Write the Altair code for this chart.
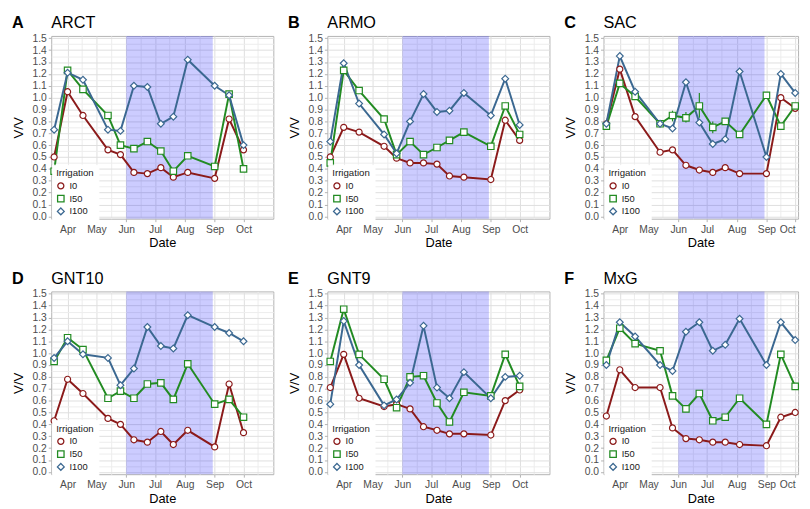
import altair as alt
import pandas as pd

# ---------------- data ----------------
dates = ["2015-03-18", "2015-04-01", "2015-04-17", "2015-05-13", "2015-05-26", "2015-06-09",
         "2015-06-23", "2015-07-07", "2015-07-20", "2015-08-04", "2015-09-01", "2015-09-16",
         "2015-10-01"]
treatments = ["I0", "I50", "I100"]
letters = ["A", "B", "C", "D", "E", "F"]
crops = ["ARCT", "ARMO", "SAC", "GNT10", "GNT9", "MxG"]

arct_i0 = [0.50, 1.05, 0.85, 0.56, 0.52, 0.37, 0.36, 0.41, 0.33, 0.37, 0.32, 0.82, 0.56]
arct_i50 = [0.38, 1.23, 1.07, 0.85, 0.60, 0.57, 0.63, 0.55, 0.38, 0.51, 0.42, 1.03, 0.40]
arct_i100 = [0.73, 1.21, 1.15, 0.73, 0.72, 1.10, 1.09, 0.78, 0.84, 1.32, 1.10, 1.02, 0.60]

armo_i0 = [0.50, 0.75, 0.71, 0.59, 0.49, 0.45, 0.45, 0.44, 0.34, 0.33, 0.31, 0.81, 0.64]
armo_i50 = [0.45, 1.23, 1.06, 0.82, 0.52, 0.63, 0.52, 0.58, 0.64, 0.71, 0.59, 0.93, 0.69]
armo_i100 = [0.63, 1.29, 0.95, 0.69, 0.53, 0.80, 1.03, 0.88, 0.89, 1.04, 0.85, 1.16, 0.77]

sac_i0 = [0.78, 1.24, 0.84, 0.54, 0.56, 0.43, 0.39, 0.37, 0.41, 0.36, 0.36, 1.00, 0.91]
sac_i50 = [0.76, 1.12, 1.01, 0.78, 0.85, 0.83, 0.93, 0.75, 0.80, 0.69, 1.02, 0.76, 0.93]
sac_i100 = [0.78, 1.35, 1.05, 0.78, 0.74, 1.13, 0.79, 0.61, 0.65, 1.22, 0.50, 1.20, 1.04]

gnt10_i0 = [0.43, 0.78, 0.66, 0.45, 0.40, 0.27, 0.25, 0.34, 0.23, 0.35, 0.21, 0.74, 0.33]
gnt10_i50 = [0.93, 1.13, 1.03, 0.62, 0.68, 0.62, 0.74, 0.75, 0.61, 0.91, 0.57, 0.61, 0.46]
gnt10_i100 = [0.96, 1.10, 0.99, 0.96, 0.73, 0.87, 1.22, 1.06, 1.04, 1.32, 1.22, 1.17, 1.10]

gnt9_i0 = [0.71, 0.99, 0.62, 0.55, 0.57, 0.53, 0.38, 0.35, 0.32, 0.32, 0.31, 0.60, 0.69]
gnt9_i50 = [0.93, 1.37, 0.99, 0.78, 0.54, 0.80, 0.81, 0.58, 0.42, 0.67, 0.64, 0.99, 0.72]
gnt9_i100 = [0.57, 1.27, 0.90, 0.56, 0.61, 0.75, 1.23, 0.71, 0.62, 0.84, 0.62, 0.80, 0.81]

mxg_i0 = [0.47, 0.86, 0.71, 0.71, 0.37, 0.28, 0.27, 0.25, 0.25, 0.23, 0.22, 0.46, 0.50]
mxg_i50 = [0.94, 1.21, 1.08, 1.02, 0.64, 0.53, 0.66, 0.43, 0.46, 0.62, 0.40, 0.99, 0.72]
mxg_i100 = [0.90, 1.26, 1.14, 0.90, 0.85, 1.18, 1.26, 1.02, 1.07, 1.29, 0.90, 1.26, 1.11]

series_by_crop = {
    "ARCT": (arct_i0, arct_i50, arct_i100),
    "ARMO": (armo_i0, armo_i50, armo_i100),
    "SAC": (sac_i0, sac_i50, sac_i100),
    "GNT10": (gnt10_i0, gnt10_i50, gnt10_i100),
    "GNT9": (gnt9_i0, gnt9_i50, gnt9_i100),
    "MxG": (mxg_i0, mxg_i50, mxg_i100),
}

# visible error bars (SAC, I50)
sac_err_dates = ["2015-05-26", "2015-06-09", "2015-06-23", "2015-07-07"]
sac_err_lo = [0.80, 0.79, 0.83, 0.70]
sac_err_hi = [0.89, 0.88, 1.04, 0.80]

shade_start = ["2015-06-01"]
shade_end = ["2015-08-30"]

month_ticks = ["2015-04-01", "2015-05-01", "2015-06-01", "2015-07-01", "2015-08-01",
               "2015-09-01", "2015-10-01"]
mid_ticks = ["2015-04-16", "2015-05-16", "2015-06-16", "2015-07-16", "2015-08-16",
             "2015-09-16", "2015-10-16"]
y_ticks = [round(i * 0.05, 2) for i in range(31)]
x_domain_full = ["2015-03-15", "2015-11-01"]   # left and middle columns
x_domain_cut = ["2015-03-15", "2015-10-04"]    # right column (cut at the image edge)

colors = ["#8B1A1A", "#228B22", "#3B6891"]
shapes = ["circle", "square", "diamond"]
sizes = [38, 48, 70]

FONT = "Liberation Sans"


def dt(s):
    y, m, d = (int(p) for p in s.split("-"))
    return alt.DateTime(year=y, month=m, date=d, utc=True)


y_scale = alt.Scale(domain=[-0.02, 1.52], nice=False, zero=False)

minor_x = "utcdate(datum.value) != 1"
minor_y = "abs(datum.value*10 - round(datum.value*10)) > 0.01"


def make_x_axis(domain):
    vals = [s for s in sorted(month_ticks + mid_ticks) if domain[0] <= s <= domain[1]]
    return alt.Axis(
        values=[dt(s) for s in vals],
        labelExpr="utcdate(datum.value) == 1 ? utcFormat(datum.value, '%b') : ''",
        labelOverlap=False, domain=False, tickSize=3, labelPadding=3, labelFlush=6,
        tickColor={"condition": {"test": minor_x, "value": "rgba(0,0,0,0)"}, "value": "#B3B3B3"},
        gridColor={"condition": {"test": minor_x, "value": "#EDEDED"}, "value": "#DEDEDE"},
        labelFont=FONT, labelFontSize=10.5, labelColor="#4D4D4D",
        titleFont=FONT, titleFontSize=13, titleFontWeight="normal", titleColor="#000000",
        titlePadding=2,
    )


y_axis = alt.Axis(
    values=y_ticks,
    labelExpr=f"{minor_y} ? '' : format(datum.value, '.1f')",
    labelOverlap=False, domain=False, tickSize=3, labelPadding=2,
    tickColor={"condition": {"test": minor_y, "value": "rgba(0,0,0,0)"}, "value": "#B3B3B3"},
    gridColor={"condition": {"test": minor_y, "value": "#EDEDED"}, "value": "#DEDEDE"},
    labelFont=FONT, labelFontSize=10.5, labelColor="#4D4D4D",
    titleFont=FONT, titleFontSize=13.5, titleFontWeight="normal", titleColor="#000000",
    titlePadding=7,
)

legend = alt.Legend(
    title="Irrigation", orient="none", legendX=1, legendY=131,
    fillColor="white", padding=4, strokeColor="white",
    titleFont=FONT, titleFontSize=9.8, titleFontWeight="normal", titleColor="#1A1A1A",
    titlePadding=3, labelFont=FONT, labelFontSize=9.5, labelColor="#1A1A1A",
    symbolSize=26, symbolStrokeWidth=1.3, symbolFillColor="white", rowPadding=0,
    labelOffset=4,
)


def panel(letter, crop, domain, width):
    i0, i50, i100 = series_by_crop[crop]
    n = len(dates)
    df = pd.DataFrame({
        "date": dates * 3,
        "Irrigation": ["I0"] * n + ["I50"] * n + ["I100"] * n,
        "value": i0 + i50 + i100,
    })
    x_scale = alt.Scale(type="utc", domain=[dt(domain[0]), dt(domain[1])])
    x_axis = make_x_axis(domain)
    xenc = alt.X("date:T", title="Date", scale=x_scale, axis=x_axis)
    yenc = alt.Y("value:Q", title="V/V", scale=y_scale, axis=y_axis)
    color = alt.Color("Irrigation:N", scale=alt.Scale(domain=treatments, range=colors),
                      legend=legend)
    shape = alt.Shape("Irrigation:N", scale=alt.Scale(domain=treatments, range=shapes),
                      legend=legend)
    size = alt.Size("Irrigation:N", scale=alt.Scale(domain=treatments, range=sizes),
                    legend=None)

    shade = alt.Chart(pd.DataFrame({"start": shade_start, "end": shade_end})).mark_rect(
        color="#0000FF", opacity=0.2
    ).encode(x=alt.X("start:T", title="Date", scale=x_scale, axis=x_axis), x2="end:T")

    lines = alt.Chart(df).mark_line(strokeWidth=2).encode(x=xenc, y=yenc, color=color)

    layers = [shade, lines]
    if crop == "SAC":
        edf = pd.DataFrame({"date": sac_err_dates, "lo": sac_err_lo, "hi": sac_err_hi,
                            "Irrigation": ["I50"] * len(sac_err_dates)})
        err = alt.Chart(edf).mark_rule(strokeWidth=1.2).encode(
            x=xenc, y=alt.Y("lo:Q", title="V/V", scale=y_scale, axis=y_axis), y2="hi:Q",
            color=color)
        layers.append(err)

    points = alt.Chart(df).mark_point(filled=False, fill="white", strokeWidth=1.2,
                                      opacity=1).encode(
        x=xenc, y=yenc, color=color, shape=shape, size=size)
    layers.append(points)

    tag = alt.Chart(pd.DataFrame({"t": [letter]})).mark_text(
        align="left", baseline="alphabetic", fontSize=16.5, fontWeight="bold",
        font=FONT, color="#000000"
    ).encode(text="t:N", x=alt.value(-40), y=alt.value(-8))
    name = alt.Chart(pd.DataFrame({"t": [crop]})).mark_text(
        align="left", baseline="alphabetic", fontSize=16.5, fontWeight="normal",
        font=FONT, color="#000000"
    ).encode(text="t:N", x=alt.value(0), y=alt.value(-8))
    layers += [tag, name]

    return alt.layer(*layers).properties(width=width, height=186)


panels = []
for i, (l, c) in enumerate(zip(letters, crops)):
    if i % 3 == 2:
        panels.append(panel(l, c, x_domain_cut, 198))
    else:
        panels.append(panel(l, c, x_domain_full, 226))

chart = alt.concat(*panels, columns=3, spacing=alt.RowColnumber(row=20, column=12)).resolve_scale(
    x="independent", y="independent", color="independent", shape="independent",
    size="independent"
).resolve_legend(color="independent", shape="independent").properties(
    padding={"left": 2, "top": 2, "right": 0, "bottom": 0}
).configure_view(stroke="#B3B3B3", strokeWidth=1)

chart.save("out.html", embed_options={"renderer": "svg", "actions": False})
